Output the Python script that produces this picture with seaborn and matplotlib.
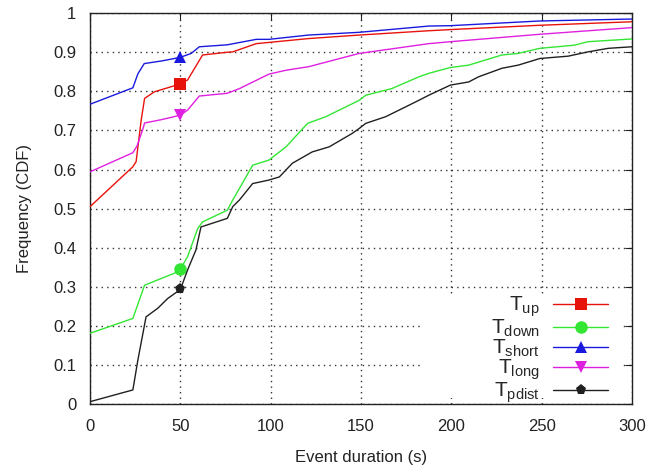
import numpy as np
import pandas as pd
import matplotlib
matplotlib.use("Agg")
import matplotlib.pyplot as plt
import seaborn as sns
from matplotlib.lines import Line2D
from matplotlib.patches import Rectangle

# ---- data ----
x_up = [0, 23.7, 25.5, 28.3, 30.2, 35.7, 45.8, 50, 54, 62.3, 76, 79, 92, 121, 149, 187.5, 199.5, 249, 300]
y_up = [0.505, 0.607, 0.62, 0.726, 0.782, 0.799, 0.813, 0.82, 0.829, 0.893, 0.900, 0.901, 0.922, 0.935, 0.944, 0.955, 0.958, 0.969, 0.978]

x_down = [0, 23.7, 30.2, 48.5, 50, 54, 59.6, 62.3, 76, 79, 85, 90, 99, 108.5, 120.4, 130.5, 141.5, 149, 152.6,
          167, 182, 187.5, 199.5, 209.6, 228, 237, 249, 268, 275.7, 300]
y_down = [0.181, 0.219, 0.304, 0.338, 0.345, 0.377, 0.449, 0.466, 0.496, 0.522, 0.57, 0.611, 0.624, 0.658, 0.718,
          0.735, 0.76, 0.777, 0.79, 0.807, 0.837, 0.846, 0.861, 0.867, 0.893, 0.897, 0.91, 0.918, 0.927, 0.934]

x_short = [0, 23.7, 26.5, 30, 40, 50, 56, 60.5, 76, 92, 99, 121, 149, 187.5, 199.5, 249, 300]
y_short = [0.767, 0.809, 0.845, 0.871, 0.878, 0.887, 0.897, 0.914, 0.919, 0.933, 0.933, 0.944, 0.951, 0.967, 0.968, 0.98, 0.985]

x_long = [0, 23.7, 26, 29, 30.2, 40, 50, 54, 60.5, 76, 82.7, 99, 108.5, 121, 149, 187.5, 199.5, 249, 300]
y_long = [0.594, 0.643, 0.66, 0.70, 0.719, 0.728, 0.739, 0.752, 0.788, 0.795, 0.807, 0.844, 0.854, 0.863, 0.897,
          0.922, 0.927, 0.946, 0.963]

x_pdist = [0, 23.7, 26.5, 31, 37.5, 43, 50, 54, 58.6, 61.4, 76, 79, 82.7, 90, 99, 104.8, 112, 123, 132.4, 145, 149,
           152.6, 163.6, 174.6, 182, 187.5, 199.5, 209.6, 215, 228, 237, 249, 264.7, 275.7, 286.8, 300]
y_pdist = [0.006, 0.036, 0.113, 0.223, 0.245, 0.27, 0.293, 0.343, 0.394, 0.453, 0.475, 0.505, 0.522, 0.564, 0.573,
           0.581, 0.616, 0.645, 0.658, 0.692, 0.705, 0.718, 0.735, 0.76, 0.777, 0.79, 0.816, 0.824, 0.837, 0.859,
           0.867, 0.884, 0.89, 0.901, 0.91, 0.914]

series_names = ["up", "down", "short", "long", "pdist"]
series_labels = [r"$\mathregular{T_{up}}$", r"$\mathregular{T_{down}}$", r"$\mathregular{T_{short}}$",
                 r"$\mathregular{T_{long}}$", r"$\mathregular{T_{pdist}}$"]
marker_at = 50

x_ticks = [0, 50, 100, 150, 200, 250, 300]
y_ticks = [0, 0.1, 0.2, 0.3, 0.4, 0.5, 0.6, 0.7, 0.8, 0.9, 1]
y_tick_labels = ["0", "0.1", "0.2", "0.3", "0.4", "0.5", "0.6", "0.7", "0.8", "0.9", "1"]

# ---- styling ----
colors = ["#e8120c", "#33e633", "#1a1adf", "#e020e0", "#202020"]
markers = ["s", "o", "^", "v", "p"]
msizes = [9, 9, 8, 8, 8]

sns.set_theme(style="white")
plt.rcParams["font.family"] = ["Liberation Sans", "DejaVu Sans"]
plt.rcParams["mathtext.fontset"] = "custom"
plt.rcParams["mathtext.rm"] = "Liberation Sans"

fig = plt.figure(figsize=(6.67, 4.70), dpi=100)
ax = fig.add_axes([0.135, 0.1404, 0.8125, 0.8316])

xs = [x_up, x_down, x_short, x_long, x_pdist]
ys = [y_up, y_down, y_short, y_long, y_pdist]
frames = []
for name, x, y in zip(series_names, xs, ys):
    frames.append(pd.DataFrame({"duration": x, "cdf": y, "series": name}))
df = pd.concat(frames, ignore_index=True)

handles = []
for name, lab, c, m, ms in zip(series_names, series_labels, colors, markers, msizes):
    sub = df[df["series"] == name].reset_index(drop=True)
    idx = int(np.argmin(np.abs(sub["duration"].values - marker_at)))
    sns.lineplot(data=sub, x="duration", y="cdf", ax=ax, color=c, linewidth=1.0,
                 estimator=None, sort=False, marker=m, markersize=ms, markevery=[idx],
                 markeredgewidth=0, zorder=3)
    handles.append(Line2D([0], [0], color=c, lw=1.0, marker=m, markersize=ms, markeredgewidth=0))

ax.set_xlim(0, 300)
ax.set_ylim(0, 1)
ax.set_xticks(x_ticks)
ax.set_yticks(y_ticks)
ax.set_yticklabels(y_tick_labels)
ax.grid(True, color="#333333", linestyle=(0, (1, 3)), linewidth=1.0)
ax.tick_params(axis="both", which="both", direction="in", length=5, width=0.8, color="#222222",
               labelsize=12, labelcolor="#222222", top=True, right=True)
ax.tick_params(axis="x", pad=11)
ax.tick_params(axis="y", pad=10)
for s in ax.spines.values():
    s.set_color("#222222")
    s.set_linewidth(1.0)

ax.set_xlabel("Event duration (s)", fontsize=12, color="#222222", labelpad=11)
ax.set_ylabel("Frequency (CDF)", fontsize=12, color="#222222", labelpad=15)

# white background of the key (covers the grid like the original)
ax.add_patch(Rectangle((0.614, 0.015), 0.364, 0.26, transform=ax.transAxes,
                       facecolor="white", edgecolor="none", zorder=1))

leg = ax.legend(handles, series_labels, loc="lower right", bbox_to_anchor=(0.968, -0.019),
                markerfirst=False, fontsize=15, frameon=False,
                handlelength=2.65, handletextpad=0.65, labelspacing=-0.07, borderpad=0.3,
                borderaxespad=0.0)
for t in leg.get_texts():
    t.set_ha("right")

fig.savefig("out.png", dpi=100)
